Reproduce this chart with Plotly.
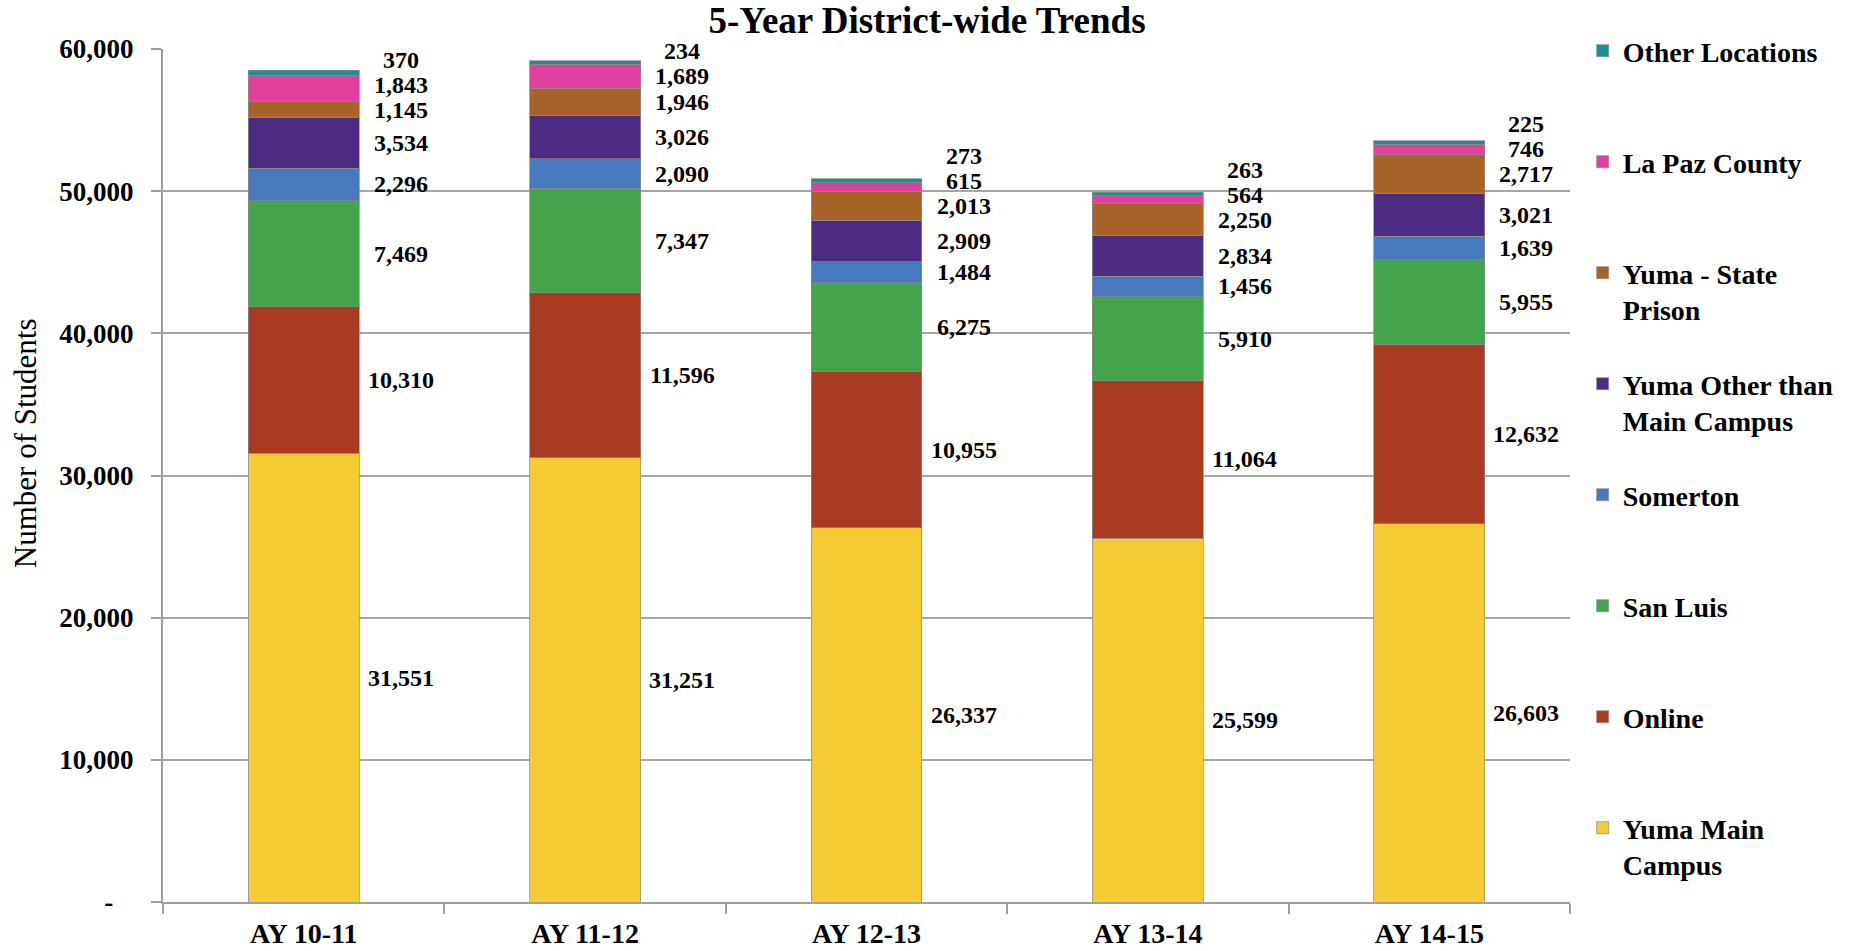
import plotly.graph_objects as go

years = ["AY 10-11", "AY 11-12", "AY 12-13", "AY 13-14", "AY 14-15"]

# series, listed from the bottom of each stack to the top
yuma_main = [31551, 31251, 26337, 25599, 26603]
online = [10310, 11596, 10955, 11064, 12632]
san_luis = [7469, 7347, 6275, 5910, 5955]
somerton = [2296, 2090, 1484, 1456, 1639]
yuma_other = [3534, 3026, 2909, 2834, 3021]
state_prison = [1145, 1946, 2013, 2250, 2717]
la_paz = [1843, 1689, 615, 564, 746]
other_loc = [370, 234, 273, 263, 225]

series_names = ["Yuma Main<br>Campus", "Online", "San Luis", "Somerton",
                "Yuma Other than<br>Main Campus", "Yuma - State<br>Prison",
                "La Paz County", "Other Locations"]
series_values = [yuma_main, online, san_luis, somerton, yuma_other,
                 state_prison, la_paz, other_loc]
series_colors = ["#F4CB33", "#A83B22", "#43A44C", "#4679BE", "#4C2C82",
                 "#A8632B", "#E2409F", "#16938F"]

y_ticks = [0, 10000, 20000, 30000, 40000, 50000, 60000]
y_ticktext = ["-\u00a0\u00a0\u00a0", "10,000", "20,000", "30,000", "40,000", "50,000", "60,000"]

FONT = "Liberation Serif"

# layout geometry (pixels)
W, H = 1854, 951
ML, MR, MT, MB = 163, 284, 49, 49
PH = H - MT - MB
LEG_FIRST, LEG_STEP, LEG_OFFSET = 53, 111, 27

fig = go.Figure()
n = len(series_names)
legend_layouts = {}
for i, (name, vals, col) in enumerate(zip(series_names, series_values, series_colors)):
    legend_name = name if "<br>" in name else name + "<br> "
    slot = n - 1 - i  # top-most series gets the first legend slot
    lid = "legend" if slot == 0 else f"legend{slot + 1}"
    fig.add_trace(go.Bar(
        x=years, y=vals, name=legend_name, legend=lid,
        marker=dict(color=col, line=dict(color="rgba(140,140,140,0.7)", width=1)),
        hoverinfo="x+y+name",
    ))
    top_px = LEG_FIRST + LEG_STEP * slot - LEG_OFFSET
    legend_layouts[lid] = dict(
        x=1.009, xanchor="left", y=(H - MB - top_px) / PH, yanchor="top",
        valign="top", bgcolor="rgba(0,0,0,0)",
        font=dict(family=FONT, size=28, color="black", weight="bold"),
    )

# value labels beside each stack: segment midpoints, pushed apart upward
MIN_GAP = 1750
annotations = []
for j, yr in enumerate(years):
    base = 0
    prev = None
    for vals in series_values:
        v = vals[j]
        mid = base + v / 2
        pos = mid if prev is None else max(mid, prev + MIN_GAP)
        prev = pos
        base += v
        annotations.append(dict(
            x=yr, y=pos, xref="x", yref="y", text=f"{v:,}",
            showarrow=False, xanchor="center", yanchor="middle", xshift=97,
            font=dict(family=FONT, size=24, color="black", weight="bold"),
        ))

annotations.append(dict(
    x=-0.098, y=0.538, xref="paper", yref="paper", text="Number of Students",
    textangle=-90, showarrow=False, xanchor="center", yanchor="middle",
    font=dict(family=FONT, size=31, color="black"),
))

fig.update_layout(
    width=W, height=H,
    paper_bgcolor="white", plot_bgcolor="white",
    margin=dict(l=ML, r=MR, t=MT, b=MB),
    barmode="stack", bargap=0.606,
    title=dict(text="<b>5-Year District-wide Trends</b>", x=0.5, xref="container",
               y=1 - 20 / H, yref="container", yanchor="middle", xanchor="center",
               font=dict(family=FONT, size=37, color="black")),
    font=dict(family=FONT, color="black"),
    showlegend=True,
    annotations=annotations,
    **legend_layouts,
)

fig.update_xaxes(
    type="category", showline=True, linecolor="#A0A0A0", linewidth=2,
    ticks="outside", tickson="boundaries", ticklen=10, tickcolor="#A0A0A0", tickwidth=2,
    tickfont=dict(family=FONT, size=28, color="black", weight="bold"),
    ticklabelstandoff=5, showgrid=False, automargin=False,
)
fig.update_yaxes(
    range=[0, 60000], tickvals=y_ticks, ticktext=y_ticktext,
    showgrid=True, gridcolor="#A6A6A6", gridwidth=2,
    showline=True, linecolor="#A0A0A0", linewidth=2,
    ticks="outside", ticklen=10, tickcolor="#A0A0A0", tickwidth=2,
    tickfont=dict(family=FONT, size=27, color="black", weight="bold"),
    ticklabelstandoff=12, zeroline=False, automargin=False,
)

fig.write_html("out.html", config={"displayModeBar": False},
               post_script="document.body.style.margin='0';")
